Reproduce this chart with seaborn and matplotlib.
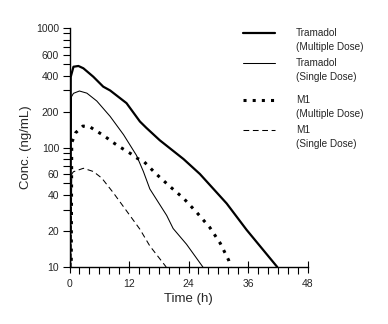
import matplotlib
matplotlib.use("Agg")
import matplotlib.pyplot as plt
from matplotlib.lines import Line2D
from matplotlib.ticker import FixedLocator, NullFormatter, FixedFormatter
import pandas as pd
import seaborn as sns

# Plasma concentration–time profiles (hours, ng/mL)
tram_multi_t = [0.05, 0.25, 0.8, 1.8, 2.8, 4.8, 6.8, 8.2, 11.5, 14.2, 15.5, 18.2, 23.0, 26.3, 31.7, 35.7, 41.9]
tram_multi_c = [3, 390, 474, 481, 460, 391, 323, 300, 235, 165, 146, 115, 80, 60, 34, 20.5, 10]

tram_single_t = [0.15, 0.4, 0.8, 2.0, 3.5, 5.5, 8.2, 10.9, 13.5, 14.9, 16.2, 19.6, 20.9, 23.6, 26.9]
tram_single_c = [3, 266, 284, 297, 285, 245, 182, 128, 86, 63, 45, 27, 21, 15.5, 10]

m1_multi_t = [0.3, 0.45, 1.25, 2.7, 4.0, 5.1, 6.5, 7.7, 8.8, 10.0, 11.2, 12.5, 13.7, 14.9, 15.9,
              17.3, 20.3, 23.0, 25.7, 28.3, 30.4, 32.1, 32.5]
m1_multi_c = [3, 110, 133, 151, 150, 140, 129, 119, 110, 102, 95, 88, 81, 77, 70,
              61, 47, 37.6, 28.5, 21.4, 15.8, 11.4, 10]

m1_single_t = [0.2, 0.45, 0.8, 2.8, 4.8, 6.5, 8.8, 11.5, 14.2, 16.2, 19.5]
m1_single_c = [3, 60, 62.7, 67, 63, 55.5, 42, 29.5, 20.7, 15, 10]

series_names = ["Tramadol\n(Multiple Dose)", "Tramadol\n(Single Dose)",
                "M1\n(Multiple Dose)", "M1\n(Single Dose)"]

y_major = [10, 20, 40, 60, 100, 200, 400, 600, 1000]
y_minor = [30, 50, 70, 80, 90, 300, 500, 700, 800, 900]
x_major = [0, 12, 24, 36, 48]
x_minor = [2, 4, 6, 8, 10, 14, 16, 18, 20, 22, 26, 28, 30, 32, 34, 38, 40, 42, 44, 46]

sns.set_style("white")
plt.rcParams["font.family"] = ["Liberation Sans Narrow", "Liberation Sans", "DejaVu Sans"]

W, H = 388, 324
fig = plt.figure(figsize=(W / 100, H / 100), dpi=100)
ax = fig.add_axes([69.5 / W, 1 - 267 / H, 238 / W, 239 / H])

styles = [
    dict(lw=1.6, dashes=None),
    dict(lw=0.75, dashes=None),
    dict(lw=2.2, dashes=(1, 2)),
    dict(lw=0.75, dashes=(5.5, 3.5)),
]
data = [(tram_multi_t, tram_multi_c), (tram_single_t, tram_single_c),
        (m1_multi_t, m1_multi_c), (m1_single_t, m1_single_c)]

for (t, c), name, st in zip(data, series_names, styles):
    df = pd.DataFrame({"Time": t, "Conc": c})
    sns.lineplot(data=df, x="Time", y="Conc", ax=ax, color="black",
                 linewidth=st["lw"], estimator=None, sort=False)
    line = ax.lines[-1]
    if st["dashes"] is not None:
        line.set_dashes(st["dashes"])
        line.set_dash_capstyle("butt")

ax.set_yscale("log")
ax.set_ylim(10, 1000)
ax.set_xlim(0, 48)

ax.yaxis.set_major_locator(FixedLocator(y_major))
ax.yaxis.set_major_formatter(FixedFormatter([str(v) for v in y_major]))
ax.yaxis.set_minor_locator(FixedLocator(y_minor))
ax.yaxis.set_minor_formatter(NullFormatter())
ax.xaxis.set_major_locator(FixedLocator(x_major))
ax.xaxis.set_minor_locator(FixedLocator(x_minor))

ax.tick_params(axis="y", which="both", direction="out", length=5, width=0.8,
               color="black", left=True, labelsize=7.5, pad=2.5)
ax.tick_params(axis="x", which="major", direction="inout", length=9, width=0.8,
               color="black", bottom=True, labelsize=7.5, pad=4)
ax.tick_params(axis="x", which="minor", direction="out", length=5, width=0.8,
               color="black", bottom=True)

for side in ("top", "right"):
    ax.spines[side].set_visible(False)
for side in ("left", "bottom"):
    ax.spines[side].set_color("black")
    ax.spines[side].set_linewidth(1.0)
ax.patch.set_alpha(0)

ax.set_xlabel("Time (h)", fontsize=9.5, labelpad=3)
ax.set_ylabel("Conc. (ng/mL)", fontsize=9.5, labelpad=3)

# Legend drawn as line samples with two-line captions
legend_rows = [33, 63, 100, 130]
for y, name, st in zip(legend_rows, series_names, styles):
    yf = 1 - y / H
    ln = Line2D([243 / W, 275 / W], [yf, yf], transform=fig.transFigure,
                color="black", linewidth=st["lw"])
    if st["dashes"] is not None:
        ln.set_dashes(st["dashes"])
        ln.set_dash_capstyle("butt")
    fig.add_artist(ln)
    fig.text(296 / W, 1 - (y + 6.8) / H, name, fontsize=7.2, va="center",
             ha="left", linespacing=1.45)

fig.savefig("out.png", dpi=100)
